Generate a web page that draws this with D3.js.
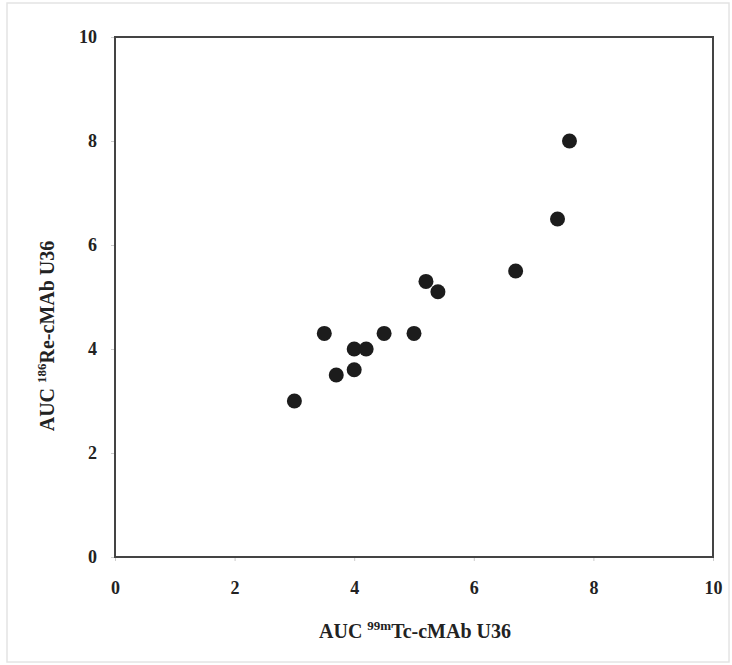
<!DOCTYPE html>
<html>
<head>
<meta charset="utf-8">
<script src="https://cdnjs.cloudflare.com/ajax/libs/d3/7.8.5/d3.min.js"></script>
<style>
  body { margin: 0; background: #fff; }
  text { font-family: "Liberation Serif", "Times New Roman", serif; font-weight: bold; fill: #222; }
</style>
</head>
<body>
<svg id="chart" width="732" height="665"></svg>
<script>
// AUC values
var tcAuc = [3.0, 3.5, 3.7, 4.0, 4.0, 4.2, 4.5, 5.0, 5.2, 5.4, 6.7, 7.4, 7.6];
var reAuc = [3.0, 4.3, 3.5, 4.0, 3.6, 4.0, 4.3, 4.3, 5.3, 5.1, 5.5, 6.5, 8.0];
var xTicks = [0, 2, 4, 6, 8, 10];
var yTicks = [0, 2, 4, 6, 8, 10];

var svg = d3.select("#chart");

// faint frame round the figure
svg.append("rect")
    .attr("x", 7).attr("y", 3)
    .attr("width", 722).attr("height", 659)
    .attr("fill", "none")
    .attr("stroke", "#e4e4e4")
    .attr("stroke-width", 1.5);

var plotL = 115, plotR = 713, plotT = 37, plotB = 557;

var x = d3.scaleLinear().domain([0, 10]).range([plotL, plotR]);
var y = d3.scaleLinear().domain([0, 10]).range([plotB, plotT]);

var xAxis = svg.append("g")
    .attr("transform", "translate(0," + plotB + ")")
    .call(d3.axisBottom(x).tickValues(xTicks).tickSize(4).tickPadding(20));
var yAxis = svg.append("g")
    .attr("transform", "translate(" + plotL + ",0)")
    .call(d3.axisLeft(y).tickValues(yTicks).tickSize(4).tickPadding(14));

[xAxis, yAxis].forEach(function(g) {
    g.select(".domain").remove();
    g.selectAll(".tick line").attr("stroke", "#ccc").attr("stroke-width", 1);
    g.selectAll(".tick text")
        .style("font-family", "'Liberation Serif', serif")
        .style("font-weight", "bold")
        .style("font-size", "18px")
        .attr("fill", "#222");
});

// plot box
svg.append("rect")
    .attr("x", plotL).attr("y", plotT)
    .attr("width", plotR - plotL).attr("height", plotB - plotT)
    .attr("fill", "none")
    .attr("stroke", "#444")
    .attr("stroke-width", 2);

svg.selectAll("circle.pt")
    .data(tcAuc)
    .enter()
    .append("circle")
    .attr("class", "pt")
    .attr("cx", function(d) { return x(d); })
    .attr("cy", function(d, i) { return y(reAuc[i]); })
    .attr("r", 7.5)
    .attr("fill", "#1c1c1c");

// axis titles
var xt = svg.append("text")
    .attr("x", 415).attr("y", 638)
    .attr("text-anchor", "middle")
    .style("font-size", "20px");
xt.append("tspan").text("AUC ");
xt.append("tspan").attr("dy", -8).style("font-size", "13px").text("99m");
xt.append("tspan").attr("dy", 8).text("Tc-cMAb U36");

var yt = svg.append("text")
    .attr("transform", "translate(54,336) rotate(-90)")
    .attr("text-anchor", "middle")
    .style("font-size", "20px");
yt.append("tspan").text("AUC ");
yt.append("tspan").attr("dy", -8).style("font-size", "13px").text("186");
yt.append("tspan").attr("dy", 8).text("Re-cMAb U36");
</script>
</body>
</html>
